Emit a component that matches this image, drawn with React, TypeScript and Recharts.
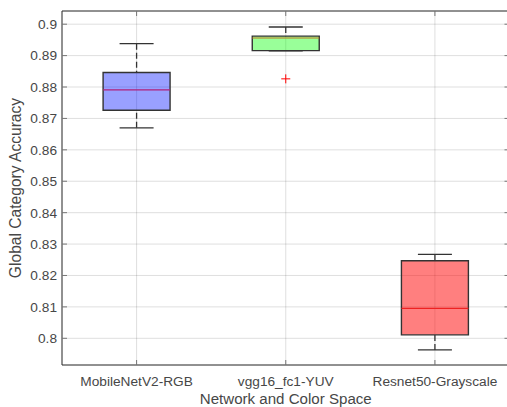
import React from 'react';
import {
  ComposedChart,
  XAxis,
  YAxis,
  CartesianGrid,
  ReferenceArea,
  ReferenceLine,
  Scatter,
  Label,
} from 'recharts';

// ---------- data ----------
const categories = ['MobileNetV2-RGB', 'vgg16_fc1-YUV', 'Resnet50-Grayscale'];
const categoryPositions = [1, 2, 3];
const lowerWhisker = [0.867, 0.8915, 0.7963];
const q1 = [0.8726, 0.8916, 0.8011];
const median = [0.8791, 0.8956, 0.8095];
const q3 = [0.8846, 0.8962, 0.8247];
const upperWhisker = [0.8938, 0.8991, 0.8267];
const outliers = [{ x: 2, y: 0.8826 }];
const yTicks = [0.8, 0.81, 0.82, 0.83, 0.84, 0.85, 0.86, 0.87, 0.88, 0.89, 0.9];
const yDomain = [0.7915, 0.9042];
const xDomain = [0.5, 3.5];

// ---------- style ----------
const boxFill = ['#0011ff', '#00ff00', '#ff0000'];
const boxFillOpacity = [0.4, 0.4, 0.5];
const medianColor = ['#b0207a', '#c07a20', '#ee2222'];
const BOX_HALF = 0.2245;
const CAP_HALF = 0.114;
const FONT = '"Liberation Sans", Arial, Helvetica, sans-serif';
const TEXT = '#474747';
const AXIS = '#333333';

const fmt = (v: number) => String(Number(v.toFixed(2)));

const Plus = (props: any) => {
  const { cx, cy } = props;
  if (cx == null || cy == null) return null;
  return (
    <g>
      <line x1={cx - 4.5} x2={cx + 4.5} y1={cy} y2={cy} stroke="#ff0000" strokeWidth={1} />
      <line x1={cx} x2={cx} y1={cy - 4.5} y2={cy + 4.5} stroke="#ff0000" strokeWidth={1} />
    </g>
  );
};

export default function App() {
  return (
    <div
      style={{
        position: 'fixed',
        left: 0,
        top: 0,
        width: 507,
        height: 407,
        overflow: 'hidden',
        background: '#ffffff',
      }}
    >
      <ComposedChart
        width={525}
        height={420}
        margin={{ top: 10, right: 14.5, bottom: 15, left: 0 }}
        style={{ fontFamily: FONT }}
      >
        <CartesianGrid stroke="#262626" strokeOpacity={0.15} strokeWidth={1} />
        <XAxis
          xAxisId={0}
          type="number"
          dataKey="x"
          domain={xDomain}
          ticks={categoryPositions}
          allowDataOverflow
          height={40}
          tickSize={-5}
          tickMargin={16.5}
          tickFormatter={(v: number) => categories[categoryPositions.indexOf(v)] ?? ''}
          tick={{ fill: TEXT, fontSize: 13.7, fontFamily: FONT }}
          axisLine={{ stroke: AXIS, strokeWidth: 1 }}
          tickLine={{ stroke: '#777777' }}
        >
          <Label
            content={(p: any) => {
              const vb = p.viewBox || {};
              return (
                <text
                  x={vb.x + vb.width / 2}
                  y={404}
                  textAnchor="middle"
                  fill={TEXT}
                  fontSize={15.1}
                  fontFamily={FONT}
                >
                  Network and Color Space
                </text>
              );
            }}
          />
        </XAxis>
        <XAxis
          xAxisId="top"
          orientation="top"
          type="number"
          dataKey="x"
          domain={xDomain}
          ticks={categoryPositions}
          allowDataOverflow
          height={1}
          tickSize={-5}
          tickFormatter={() => ''}
          axisLine={{ stroke: AXIS, strokeWidth: 1 }}
          tickLine={{ stroke: '#777777' }}
        />
        <YAxis
          yAxisId={0}
          type="number"
          domain={yDomain}
          ticks={yTicks}
          allowDataOverflow
          width={62}
          tickSize={-5}
          tickMargin={10}
          tickFormatter={fmt}
          tick={{ fill: TEXT, fontSize: 13.7, fontFamily: FONT }}
          axisLine={{ stroke: AXIS, strokeWidth: 1 }}
          tickLine={{ stroke: '#777777' }}
        >
          <Label
            content={(p: any) => {
              const vb = p.viewBox || {};
              const cy = vb.y + vb.height / 2;
              return (
                <text
                  x={21}
                  y={cy}
                  transform={`rotate(-90, 21, ${cy})`}
                  textAnchor="middle"
                  fill={TEXT}
                  fontSize={15.6}
                  fontFamily={FONT}
                >
                  Global Category Accuracy
                </text>
              );
            }}
          />
        </YAxis>
        <YAxis
          yAxisId="right"
          orientation="right"
          type="number"
          domain={yDomain}
          ticks={yTicks}
          allowDataOverflow
          width={1}
          tickSize={-5}
          tickFormatter={() => ''}
          axisLine={{ stroke: AXIS, strokeWidth: 1 }}
          tickLine={{ stroke: '#777777' }}
        />

        {categoryPositions.map((c, i) => (
          <ReferenceArea
            key={`box-${i}`}
            xAxisId={0}
            yAxisId={0}
            x1={c - BOX_HALF}
            x2={c + BOX_HALF}
            y1={q1[i]}
            y2={q3[i]}
            fill={boxFill[i]}
            fillOpacity={boxFillOpacity[i]}
            stroke="#333333"
            strokeWidth={1.4}
            strokeOpacity={1}
          />
        ))}
        {categoryPositions.map((c, i) => (
          <ReferenceLine
            key={`med-${i}`}
            xAxisId={0}
            yAxisId={0}
            segment={[
              { x: c - BOX_HALF, y: median[i] },
              { x: c + BOX_HALF, y: median[i] },
            ]}
            stroke={medianColor[i]}
            strokeWidth={1.2}
          />
        ))}
        {categoryPositions.map((c, i) => (
          <ReferenceLine
            key={`uw-${i}`}
            xAxisId={0}
            yAxisId={0}
            segment={[
              { x: c, y: upperWhisker[i] },
              { x: c, y: q3[i] },
            ]}
            stroke="#333333"
            strokeWidth={1.3}
            strokeDasharray="6 3"
          />
        ))}
        {categoryPositions.map((c, i) => (
          <ReferenceLine
            key={`lw-${i}`}
            xAxisId={0}
            yAxisId={0}
            segment={[
              { x: c, y: lowerWhisker[i] },
              { x: c, y: q1[i] },
            ]}
            stroke="#333333"
            strokeWidth={1.3}
            strokeDasharray="6 3"
          />
        ))}
        {categoryPositions.map((c, i) => (
          <ReferenceLine
            key={`uc-${i}`}
            xAxisId={0}
            yAxisId={0}
            segment={[
              { x: c - CAP_HALF, y: upperWhisker[i] },
              { x: c + CAP_HALF, y: upperWhisker[i] },
            ]}
            stroke="#333333"
            strokeWidth={1.3}
          />
        ))}
        {categoryPositions.map((c, i) => (
          <ReferenceLine
            key={`lc-${i}`}
            xAxisId={0}
            yAxisId={0}
            segment={[
              { x: c - CAP_HALF, y: lowerWhisker[i] },
              { x: c + CAP_HALF, y: lowerWhisker[i] },
            ]}
            stroke="#333333"
            strokeWidth={1.3}
          />
        ))}
        <Scatter
          xAxisId={0}
          yAxisId={0}
          data={outliers}
          dataKey="y"
          shape={<Plus />}
          isAnimationActive={false}
        />
      </ComposedChart>
    </div>
  );
}
